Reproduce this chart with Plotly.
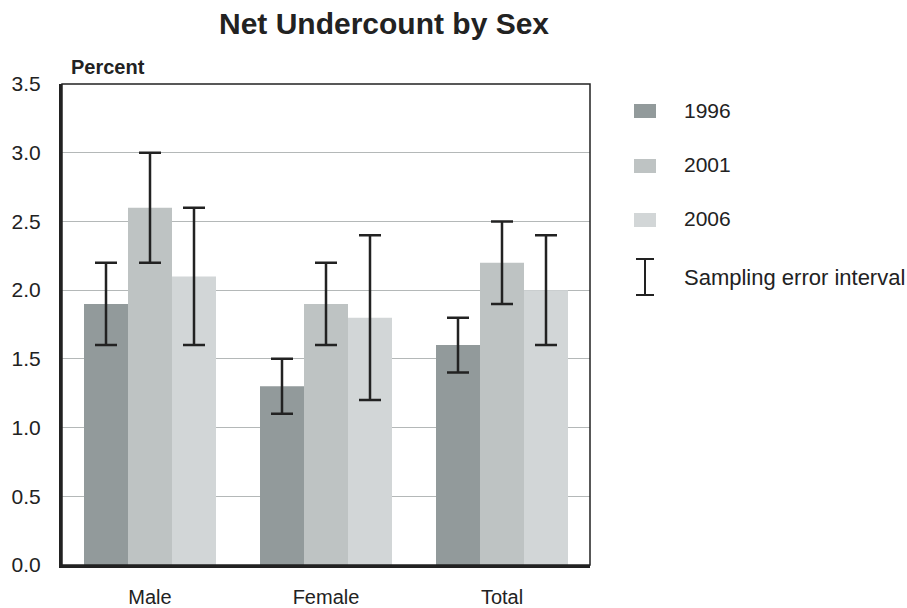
import plotly.graph_objects as go

categories = ["Male", "Female", "Total"]
years = ["1996", "2001", "2006"]
values_1996 = [1.9, 1.3, 1.6]
values_2001 = [2.6, 1.9, 2.2]
values_2006 = [2.1, 1.8, 2.0]
low_1996 = [1.6, 1.1, 1.4]
high_1996 = [2.2, 1.5, 1.8]
low_2001 = [2.2, 1.6, 1.9]
high_2001 = [3.0, 2.2, 2.5]
low_2006 = [1.6, 1.2, 1.6]
high_2006 = [2.6, 2.4, 2.4]
colors = ["#929a9b", "#bec3c3", "#d2d6d7"]
y_ticks = [0, 0.5, 1.0, 1.5, 2.0, 2.5, 3.0, 3.5]

W, H = 907, 608
L, R, T, B = 62, 590, 84, 565
FONT = "Liberation Sans, Arial, sans-serif"
INK = "#222222"

fig = go.Figure()
series = [(values_1996, low_1996, high_1996), (values_2001, low_2001, high_2001), (values_2006, low_2006, high_2006)]
for yr, (v, lo, hi), c in zip(years, series, colors):
    fig.add_trace(go.Bar(
        x=categories, y=v, name=yr, marker=dict(color=c, line=dict(width=0)),
        error_y=dict(type="data", symmetric=False,
                     array=[h - a for h, a in zip(hi, v)],
                     arrayminus=[a - l for a, l in zip(v, lo)],
                     color=INK, thickness=2.5, width=11),
        showlegend=False,
    ))

def px_x(px):
    return (px - L) / (R - L)

def px_y(py):
    return (B - py) / (B - T)

shapes = [
    dict(type="rect", xref="paper", yref="paper", x0=0, x1=1, y0=0, y1=1,
         line=dict(color=INK, width=1.5), layer="above"),
]
annotations = [
    dict(text="<b>Percent</b>", xref="paper", yref="paper", x=px_x(69), y=px_y(67),
         xanchor="left", yanchor="middle", showarrow=False,
         font=dict(family=FONT, size=20, color=INK)),
]
legend_y = [111, 166, 220]
for yr, c, ly in zip(years, colors, legend_y):
    shapes.append(dict(type="rect", xref="paper", yref="paper",
                       x0=px_x(634), x1=px_x(656), y0=px_y(ly + 7), y1=px_y(ly - 7),
                       fillcolor=c, line=dict(width=0)))
    annotations.append(dict(text=yr, xref="paper", yref="paper", x=px_x(682), y=px_y(ly - 1),
                            xanchor="left", yanchor="middle", showarrow=False,
                            font=dict(family=FONT, size=21, color=INK)))
shapes += [
    dict(type="line", xref="paper", yref="paper", x0=px_x(645), x1=px_x(645), y0=px_y(259), y1=px_y(295),
         line=dict(color=INK, width=2)),
    dict(type="line", xref="paper", yref="paper", x0=px_x(636), x1=px_x(654), y0=px_y(259), y1=px_y(259),
         line=dict(color=INK, width=2)),
    dict(type="line", xref="paper", yref="paper", x0=px_x(636), x1=px_x(654), y0=px_y(295), y1=px_y(295),
         line=dict(color=INK, width=2)),
]
annotations.append(dict(text="Sampling error interval", xref="paper", yref="paper", x=px_x(682), y=px_y(277),
                        xanchor="left", yanchor="middle", showarrow=False,
                        font=dict(family=FONT, size=22, color=INK)))

fig.update_layout(
    width=W, height=H,
    margin=dict(l=L, r=W - R, t=T, b=H - B, pad=0, autoexpand=False),
    paper_bgcolor="white", plot_bgcolor="white",
    barmode="group", bargap=0.25, bargroupgap=0,
    title=dict(text="<b>Net Undercount by Sex</b>", x=384 / W, xanchor="center",
               y=1 - 23 / H, yanchor="middle",
               font=dict(family=FONT, size=30, color=INK)),
    font=dict(family=FONT, size=20, color=INK),
    xaxis=dict(showgrid=False, showline=True, linecolor=INK, linewidth=3,
               ticks="", ticklabelstandoff=12, tickfont=dict(size=20)),
    yaxis=dict(range=[0, 3.5], tickvals=y_ticks, tickformat=".1f",
               showgrid=True, gridcolor="#b4b8b8", gridwidth=1,
               showline=True, linecolor=INK, linewidth=3,
               ticks="", ticklabelstandoff=14, tickfont=dict(size=21), zeroline=False),
    shapes=shapes, annotations=annotations,
)

fig.write_html("out.html", config={"displayModeBar": False},
               post_script="document.body.style.margin='0';document.body.style.overflow='hidden';")
